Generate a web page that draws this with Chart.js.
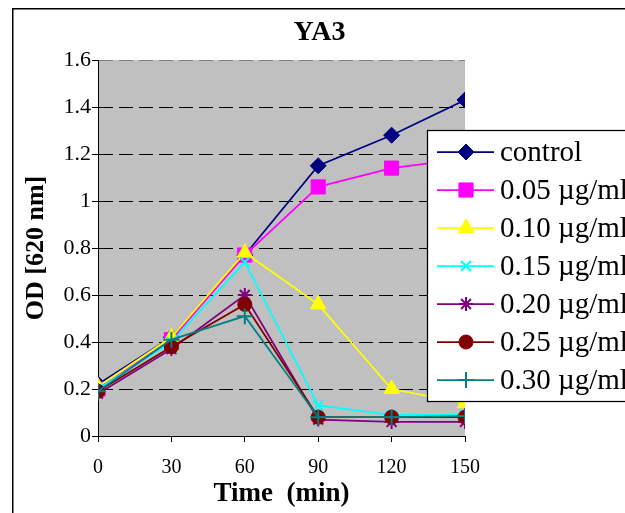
<!DOCTYPE html>
<html>
<head>
<meta charset="utf-8">
<script src="https://cdn.jsdelivr.net/npm/chart.js@4"></script>
<style>
  html, body { margin: 0; padding: 0; background: #fff; }
  #wrap { width: 625px; height: 513px; }
</style>
</head>
<body>
<div id="wrap"><canvas id="chart" width="625" height="513"></canvas></div>
<script>
const times = [0, 30, 60, 90, 120, 150]
const yTicks = [0, 0.2, 0.4, 0.6, 0.8, 1, 1.2, 1.4, 1.6]

const seriesNames = ['control', '0.05 µg/ml', '0.10 µg/ml', '0.15 µg/ml', '0.20 µg/ml', '0.25 µg/ml', '0.30 µg/ml']
const control = [0.22, 0.42, 0.77, 1.15, 1.28, 1.43]
const c005 = [0.20, 0.41, 0.77, 1.06, 1.14, 1.18]
const c010 = [0.21, 0.42, 0.78, 0.56, 0.20, 0.14]
const c015 = [0.20, 0.40, 0.74, 0.13, 0.09, 0.09]
const c020 = [0.18, 0.37, 0.60, 0.07, 0.06, 0.06]
const c025 = [0.19, 0.38, 0.56, 0.08, 0.08, 0.08]
const c030 = [0.19, 0.41, 0.51, 0.08, 0.08, 0.085]

const seriesValues = [control, c005, c010, c015, c020, c025, c030]
const colors = ['#000080', '#FF00FF', '#FFFF00', '#00FFFF', '#800080', '#800000', '#008080']
const markers = ['rectRot', 'rect', 'triangle', 'crossRot', 'star', 'circle', 'cross']
const markerSizes = [8, 10, 9, 7, 7, 7, 8]

const serif = "'Liberation Serif', 'Times New Roman', serif"

const datasets = seriesValues.map((vals, i) => ({
	label: seriesNames[i],
	data: vals.map((v, j) => ({ x: times[j], y: v })),
	borderColor: colors[i],
	backgroundColor: colors[i],
	borderWidth: 1.75,
	pointStyle: markers[i],
	pointRadius: markerSizes[i],
	pointBorderWidth: ['crossRot', 'star', 'cross'].includes(markers[i]) ? 2 : 1,
	pointBorderColor: colors[i],
	pointBackgroundColor: colors[i],
	tension: 0,
	order: seriesValues.length - i,
}))

// grey plot area, outer frame and the overlapping legend box
const excelLook = {
	id: 'excelLook',
	beforeDraw(chart) {
		const { ctx, chartArea: a } = chart
		ctx.save()
		ctx.fillStyle = '#C0C0C0'
		ctx.fillRect(a.left, a.top, a.right - a.left, a.bottom - a.top)
		ctx.strokeStyle = '#000'
		ctx.lineWidth = 1.5
		ctx.strokeRect(12.75, 8.75, 700, 600)
		ctx.restore()
	},
	afterDraw(chart) {
		const { ctx } = chart
		ctx.save()
		ctx.fillStyle = '#fff'
		ctx.fillRect(427, 130, 220, 272)
		ctx.strokeStyle = '#000'
		ctx.lineWidth = 1.25
		ctx.strokeRect(427.5, 130.5, 220, 271)
		ctx.font = '29px ' + serif
		ctx.textBaseline = 'middle'
		seriesNames.forEach((name, i) => {
			const y = 152 + i * 38
			ctx.strokeStyle = colors[i]
			ctx.lineWidth = 1.75
			ctx.beginPath()
			ctx.moveTo(437, y)
			ctx.lineTo(494, y)
			ctx.stroke()
			ctx.fillStyle = colors[i]
			ctx.lineWidth = ['crossRot', 'star', 'cross'].includes(markers[i]) ? 2 : 1
			if (Chart.helpers && Chart.helpers.drawPoint) {
				Chart.helpers.drawPoint(ctx, { pointStyle: markers[i], rotation: 0, radius: markerSizes[i], borderWidth: ctx.lineWidth }, 466, y)
			}
			ctx.fillStyle = '#000'
			ctx.fillText(name, 500, y + 1)
		})
		ctx.restore()
	},
}

new Chart(document.getElementById('chart'), {
	type: 'line',
	data: { datasets },
	plugins: [excelLook],
	options: {
		responsive: false,
		animation: false,
		events: [],
		layout: { padding: { left: 14, right: 0, top: 0, bottom: 0 } },
		plugins: {
			legend: { display: false },
			tooltip: { enabled: false },
			title: {
				display: true,
				text: 'YA3',
				color: '#000',
				font: { family: serif, size: 28, weight: 'bold' },
				padding: { top: 16, bottom: 10.4 },
			},
		},
		scales: {
			x: {
				type: 'linear',
				min: 0,
				max: 150,
				afterBuildTicks: (s) => { s.ticks = times.map((v) => ({ value: v })) },
				afterFit: (s) => { s.height = 77 },
				ticks: { color: '#000', font: { family: serif, size: 20 }, padding: 14, maxRotation: 0 },
				grid: { drawOnChartArea: false, drawTicks: true, tickLength: 6, tickColor: '#000', tickWidth: 1 },
				border: { display: true, color: '#000', width: 1 },
				title: {
					display: true,
					text: 'Time  (min)',
					color: '#000',
					font: { family: serif, size: 27, weight: 'bold' },
					padding: { top: 0, bottom: 3 },
				},
			},
			y: {
				min: 0,
				max: 1.6,
				afterBuildTicks: (s) => { s.ticks = yTicks.map((v) => ({ value: v })) },
				afterFit: (s) => { s.width = 84 },
				ticks: {
					color: '#000',
					font: { family: serif, size: 22 },
					padding: 1,
					callback: (v) => String(Math.round(v * 10) / 10),
				},
				grid: {
					color: (c) => (c.tick && c.tick.value === 0 ? 'rgba(0,0,0,0)' : c.tick && c.tick.value === 1.6 ? '#808080' : '#000'),
					lineWidth: 1,
					tickLength: 6,
					tickColor: '#000',
					tickWidth: 1,
					tickBorderDash: [],
				},
				border: { display: true, color: '#000', width: 1, dash: [14, 6] },
				title: {
					display: true,
					text: 'OD [620 nm]',
					color: '#000',
					font: { family: serif, size: 26, weight: 'bold' },
					padding: { top: 7, bottom: 0 },
				},
			},
			// empty right-hand axis that reserves the space right of the plot
			yRight: {
				position: 'right',
				min: 0,
				max: 1.6,
				afterFit: (s) => { s.width = 160 },
				ticks: { display: false },
				grid: { drawOnChartArea: false, drawTicks: false },
				border: { display: false },
			},
		},
	},
})
</script>
</body>
</html>
